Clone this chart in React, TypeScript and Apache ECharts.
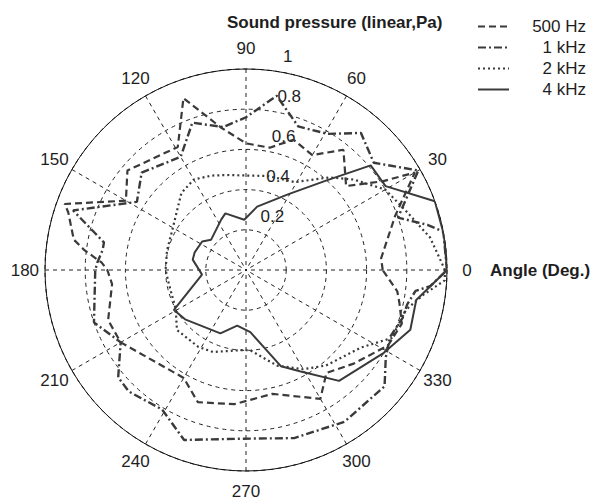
import React, { useEffect, useRef } from 'react';
import * as echarts from 'echarts';

// Angle tick values (degrees) and radial (pressure) tick values / labels
const ANGLE_TICKS = [0, 30, 60, 90, 120, 150, 180, 210, 240, 270, 300, 330];
const RADIAL_TICKS = [0.2, 0.4, 0.6, 0.8, 1];
const RADIAL_LABELS = ['0.2', '0.4', '0.6', '0.8', '1'];

// Series names
const SERIES_NAMES = ['500 Hz', '1 kHz', '2 kHz', '4 kHz'];

// 500 Hz (dashed)
const HZ500_ANGLE = [0, 5, 20, 30, 33, 40, 51, 60, 70, 79, 90, 100, 110, 119, 140, 150, 160, 162, 170, 173, 177, 180, 186, 200, 210, 240, 250, 265, 282, 300, 308, 319, 332, 341, 348, 352, 360];
const HZ500_R = [0.68, 0.675, 0.79, 0.97, 0.81, 0.65, 0.77, 0.66, 0.69, 0.62, 0.63, 0.72, 0.91, 0.70, 0.77, 0.69, 0.96, 0.93, 0.87, 0.81, 0.72, 0.69, 0.67, 0.73, 0.72, 0.62, 0.70, 0.67, 0.63, 0.74, 0.65, 0.71, 0.80, 0.82, 0.78, 0.76, 0.68];

// 1 kHz (dash-dot)
const KHZ1_ANGLE = [0, 11, 14, 19, 30, 40, 50, 59, 70, 80, 90, 99, 110, 120, 137, 148, 161, 169, 172, 177, 180, 199, 210, 220, 226, 239, 250, 268, 286, 303, 320, 328, 335, 343, 348, 353, 355, 360];
const KHZ1_R = [1.0, 1.0, 0.93, 0.80, 0.99, 0.83, 0.89, 0.79, 0.76, 0.88, 0.76, 0.72, 0.78, 0.65, 0.71, 0.64, 0.91, 0.72, 0.72, 0.74, 0.75, 0.80, 0.72, 0.83, 0.84, 0.81, 0.90, 0.84, 0.87, 0.90, 0.90, 0.82, 0.79, 0.815, 0.82, 0.85, 0.92, 1.0];

// 2 kHz (dotted)
const KHZ2_ANGLE = [0, 10, 20, 30, 40, 48, 61, 77, 90, 100, 110, 120, 130, 140, 150, 166, 180, 190, 209, 221, 238, 248, 266, 273, 288, 300, 310, 326, 335, 346, 352, 357, 360];
const KHZ2_R = [0.99, 0.93, 0.85, 0.80, 0.70, 0.62, 0.50, 0.48, 0.47, 0.48, 0.50, 0.52, 0.50, 0.45, 0.42, 0.405, 0.40, 0.39, 0.40, 0.455, 0.45, 0.44, 0.40, 0.40, 0.50, 0.57, 0.62, 0.69, 0.80, 0.82, 0.89, 0.99, 0.99];

// 4 kHz (solid)
const KHZ4_ANGLE = [0, 10, 20, 31, 40, 48, 61, 80, 92, 110, 116, 139, 147, 161, 169, 186, 209, 219, 248, 261, 274, 290, 298, 310, 329, 340, 350, 360];
const KHZ4_R = [1.0, 1.0, 1.0, 0.81, 0.81, 0.60, 0.43, 0.32, 0.25, 0.30, 0.28, 0.23, 0.26, 0.27, 0.27, 0.22, 0.41, 0.39, 0.34, 0.28, 0.31, 0.51, 0.57, 0.72, 0.80, 0.87, 0.86, 1.0];

const CX = 246;
const CY = 270;
const R = 201;
const FONT = '"Liberation Sans", Arial, sans-serif';
const INK = '#1e1e1e';
const LINE = '#3a3a3a';

export default function App() {
  const ref = useRef<HTMLDivElement>(null);

  useEffect(() => {
    if (!ref.current) return;
    const chart = echarts.init(ref.current, null, { renderer: 'svg' });

    const toData = (ang: number[], r: number[]) => ang.map((a, i) => [r[i], a]);
    const lineSeries = (name: string, ang: number[], r: number[], type: any, width: number) => ({
      type: 'line',
      name,
      coordinateSystem: 'polar',
      data: toData(ang, r),
      symbol: 'none',
      smooth: false,
      clip: false,
      lineStyle: { color: LINE, width, type },
      itemStyle: { color: LINE },
    });

    const textStyle = (text: string, align: string) => ({
      text,
      fontSize: 17,
      fontFamily: FONT,
      fill: INK,
      align,
      verticalAlign: 'middle',
    });

    // radial tick labels placed along the 82 degree direction (as in MATLAB polar plots)
    const labelAngle = (82 * Math.PI) / 180;
    const radialLabels = RADIAL_TICKS.map((t, i) => ({
      type: 'text',
      x: CX + R * t * Math.cos(labelAngle) + 9,
      y: CY - R * t * Math.sin(labelAngle) - 14,
      style: textStyle(RADIAL_LABELS[i], 'left'),
    }));

    // angle tick labels centred at 1.1 x outer radius
    const angleLabels = ANGLE_TICKS.map((a) => {
      const rad = (a * Math.PI) / 180;
      return {
        type: 'text',
        x: CX + R * 1.1 * Math.cos(rad),
        y: CY - R * 1.1 * Math.sin(rad),
        style: textStyle(String(a), 'center'),
      };
    });

    chart.setOption({
      animation: false,
      backgroundColor: '#ffffff',
      title: [
        {
          text: 'Sound pressure (linear,Pa)',
          left: 227,
          top: 14,
          padding: 0,
          textStyle: { fontSize: 17, fontWeight: 'bold', fontFamily: FONT, color: INK },
        },
        {
          text: 'Angle (Deg.)',
          left: 490,
          top: 262,
          padding: 0,
          textStyle: { fontSize: 17, fontWeight: 'bold', fontFamily: FONT, color: INK },
        },
      ],
      legend: {
        orient: 'vertical',
        left: 477,
        top: 18,
        padding: 0,
        itemWidth: 31,
        itemHeight: 14,
        itemGap: 4,
        data: SERIES_NAMES,
        itemStyle: { opacity: 0 },
        formatter: (n: string) => `{a|${n}}`,
        textStyle: {
          color: INK,
          fontSize: 17,
          fontFamily: FONT,
          rich: { a: { width: 72, align: 'right', fontSize: 17, lineHeight: 18, fontFamily: FONT, color: INK } },
        },
      },
      polar: { center: [CX, CY], radius: R },
      angleAxis: {
        type: 'value',
        min: 0,
        max: 360,
        interval: 30,
        startAngle: 0,
        clockwise: false,
        axisLine: { lineStyle: { color: '#111', width: 1 } },
        axisTick: { show: false },
        axisLabel: { show: false },
        splitLine: { show: true, lineStyle: { color: '#222', width: 1, type: [4, 4] } },
      },
      radiusAxis: {
        type: 'value',
        min: 0,
        max: 1,
        interval: 0.2,
        axisLine: { show: false },
        axisTick: { show: false },
        axisLabel: { show: false },
        splitLine: { show: true, lineStyle: { color: '#222', width: 1, type: [4, 4] } },
      },
      graphic: [...angleLabels, ...radialLabels],
      series: [
        lineSeries(SERIES_NAMES[0], HZ500_ANGLE, HZ500_R, [7, 4], 2.2),
        lineSeries(SERIES_NAMES[1], KHZ1_ANGLE, KHZ1_R, [8, 3, 2, 3], 2.4),
        lineSeries(SERIES_NAMES[2], KHZ2_ANGLE, KHZ2_R, [2, 3], 2.2),
        lineSeries(SERIES_NAMES[3], KHZ4_ANGLE, KHZ4_R, 'solid', 2),
      ],
    });

    return () => chart.dispose();
  }, []);

  return (
    <div
      ref={ref}
      style={{ position: 'fixed', left: 0, top: 0, width: 593, height: 500, background: '#fff' }}
    />
  );
}
